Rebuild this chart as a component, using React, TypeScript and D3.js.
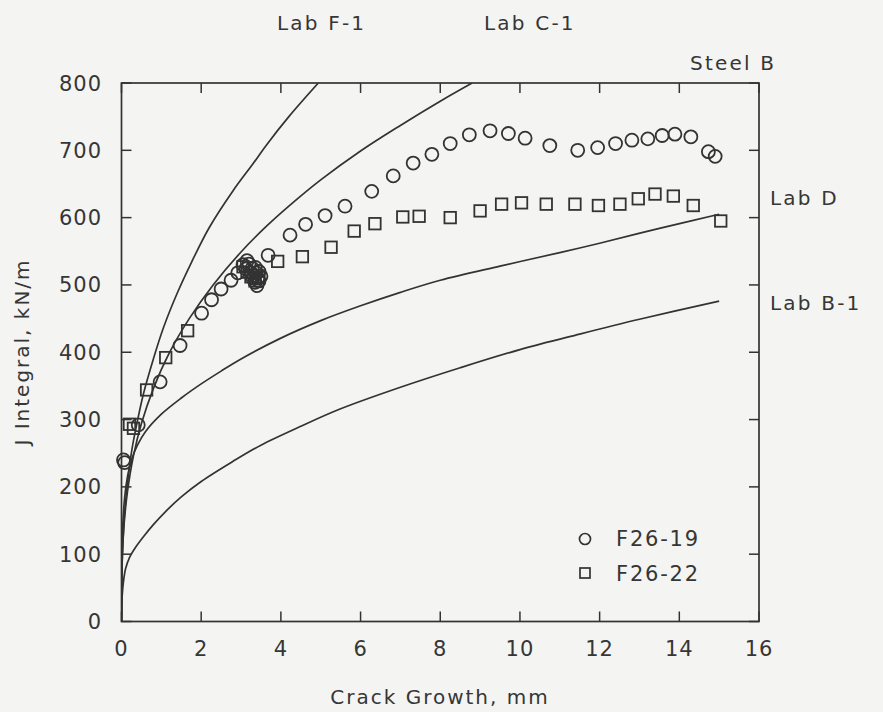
import React, { useEffect } from "react";
import * as d3 from "d3";

// Lab prediction curves: [crack growth mm, J kN/m]
const labF1: [number, number][] = [
  [0, 0], [0.01, 70], [0.03, 110], [0.07, 155], [0.15, 205], [0.26, 255], [0.4, 298],
  [0.55, 338], [0.8, 390], [1.05, 436], [1.4, 488], [1.76, 534], [2.2, 585],
  [2.8, 640], [3.3, 680], [3.64, 708], [4.2, 750], [4.94, 800],
];
const labC1: [number, number][] = [
  [0, 0], [0.01, 75], [0.03, 110], [0.07, 148], [0.15, 193], [0.3, 246], [0.5, 294],
  [0.8, 346], [1.2, 399], [1.7, 450], [2.3, 500], [3.0, 549], [3.6, 585],
  [4.2, 617], [5.0, 656], [6.0, 699], [7.0, 737], [8.0, 773], [8.8, 800],
];
const labD: [number, number][] = [
  [0, 0], [0.01, 90], [0.03, 140], [0.08, 185], [0.15, 215], [0.25, 240], [0.4, 262],
  [0.6, 282], [1.0, 308], [1.5, 332], [2.0, 353], [2.5, 372], [3.0, 390],
  [4.0, 421], [5.0, 447], [6.0, 469], [7.0, 489], [8.0, 507], [9.5, 528],
  [11.0, 548], [12.0, 562], [13.5, 584], [15.0, 605],
];
const labB1: [number, number][] = [
  [0, 0], [0.01, 30], [0.03, 48], [0.06, 64], [0.1, 78], [0.2, 95], [0.35, 110],
  [0.55, 126], [0.8, 144], [1.1, 163], [1.5, 185], [2.0, 208], [2.8, 238],
  [3.5, 262], [4.5, 290], [5.5, 316], [7.0, 348], [8.5, 377], [10.0, 404],
  [11.5, 427], [13.0, 449], [15.0, 476],
];

// Test data
const f2619: [number, number][] = [
  [0.05, 240], [0.08, 236], [0.42, 292], [0.97, 356], [1.47, 410], [2.01, 458],
  [2.26, 478], [2.5, 494], [2.75, 507], [2.92, 518], [3.05, 530], [3.12, 524],
  [3.2, 531], [3.25, 518], [3.3, 510], [3.35, 504], [3.4, 499], [3.45, 506],
  [3.5, 513], [3.38, 518], [3.28, 525], [3.15, 536], [3.45, 520], [3.32, 514],
  [3.42, 510], [3.36, 526], [3.68, 544],
  [4.23, 574], [4.62, 590], [5.11, 603], [5.61, 617], [6.28, 639], [6.82, 662],
  [7.32, 681], [7.79, 694], [8.25, 710], [8.73, 723], [9.25, 729], [9.71, 725],
  [10.13, 718], [10.75, 707], [11.45, 700], [11.95, 704], [12.4, 710],
  [12.81, 715], [13.21, 717], [13.57, 722], [13.89, 724], [14.29, 720],
  [14.73, 698], [14.9, 691],
];
const f2622: [number, number][] = [
  [0.2, 293], [0.3, 287], [0.63, 344], [1.11, 392], [1.66, 432], [3.05, 527],
  [3.15, 519], [3.25, 512], [3.35, 506], [3.45, 511], [3.92, 535], [4.54, 542],
  [5.26, 556], [5.84, 580], [6.36, 591], [7.06, 601], [7.47, 602], [8.25, 600],
  [9.0, 610], [9.54, 620], [10.04, 622], [10.66, 620], [11.38, 620],
  [11.97, 618], [12.51, 620], [12.97, 628], [13.39, 635], [13.85, 632],
  [14.35, 618], [15.04, 595],
];

const xTicks = [0, 2, 4, 6, 8, 10, 12, 14, 16];
const yTicks = [0, 100, 200, 300, 400, 500, 600, 700, 800];

const W = 883;
const H = 712;
const INK = "#333";
const TXT = "#363636";
const FONT = "'DejaVu Sans', Verdana, sans-serif";

export default function App() {
  useEffect(() => {
    document.body.style.margin = "0";
  }, []);

  const x = d3.scaleLinear().domain([0, 16]).range([121.5, 759]);
  const y = d3.scaleLinear().domain([0, 800]).range([621.5, 83]);
  const line = d3
    .line<[number, number]>()
    .x((d) => x(d[0]))
    .y((d) => y(d[1]))
    .curve(d3.curveCatmullRom.alpha(0.5));

  const x0 = x(0), x1 = x(16), y0 = y(0), y1 = y(800);
  const tl = 10;
  const sq = 11.5;

  return (
    <svg width={W} height={H} style={{ display: "block", background: "#f4f4f2" }} fontFamily={FONT}>
      <defs>
        <clipPath id="plot">
          <rect x={x0} y={y1} width={x1 - x0} height={y0 - y1} />
        </clipPath>
      </defs>
      <rect x={0} y={0} width={W} height={H} fill="#f4f4f2" />

      {/* curves */}
      <g clipPath="url(#plot)" fill="none" stroke={INK} strokeWidth={1.7}>
        {[labF1, labC1, labD, labB1].map((c, i) => (
          <path key={i} d={line(c) || ""} />
        ))}
      </g>

      {/* data */}
      <g fill="none" stroke={INK} strokeWidth={1.8}>
        {f2619.map((d, i) => (
          <circle key={"c" + i} cx={x(d[0])} cy={y(d[1])} r={6.5} />
        ))}
        {f2622.map((d, i) => (
          <rect key={"s" + i} x={x(d[0]) - sq / 2} y={y(d[1]) - sq / 2} width={sq} height={sq} />
        ))}
      </g>

      {/* frame */}
      <rect x={x0} y={y1} width={x1 - x0} height={y0 - y1} fill="none" stroke={INK} strokeWidth={1.7} />
      <g stroke={INK} strokeWidth={1.5}>
        {xTicks.map((t) => (
          <g key={"xt" + t}>
            <line x1={x(t)} x2={x(t)} y1={y0} y2={y0 - tl} />
            <line x1={x(t)} x2={x(t)} y1={y1} y2={y1 + tl} />
          </g>
        ))}
        {yTicks.map((t) => (
          <g key={"yt" + t}>
            <line x1={x0} x2={x0 + tl} y1={y(t)} y2={y(t)} />
            <line x1={x1} x2={x1 - tl} y1={y(t)} y2={y(t)} />
          </g>
        ))}
      </g>

      {/* tick labels */}
      <g fill={TXT} fontSize={21} letterSpacing={1}>
        {xTicks.map((t) => (
          <text key={"xl" + t} x={x(t)} y={656} textAnchor="middle">
            {t}
          </text>
        ))}
        {yTicks.map((t) => (
          <text key={"yl" + t} x={102} y={y(t) + 7.5} textAnchor="end">
            {t}
          </text>
        ))}
      </g>

      {/* axis titles */}
      <text x={440} y={704} textAnchor="middle" fontSize={20} fill={TXT} letterSpacing={2}>
        Crack Growth, mm
      </text>
      <text
        transform="translate(29,352) rotate(-90)"
        textAnchor="middle"
        fontSize={20}
        fill={TXT}
        letterSpacing={2}
      >
        J Integral, kN/m
      </text>

      {/* curve labels */}
      <g fill={TXT} fontSize={20} letterSpacing={2.2}>
        <text x={277} y={30}>Lab F-1</text>
        <text x={484} y={30}>Lab C-1</text>
        <text x={690} y={70}>Steel B</text>
        <text x={770} y={205}>Lab D</text>
        <text x={770} y={310}>Lab B-1</text>
      </g>

      {/* legend */}
      <g fill="none" stroke={INK} strokeWidth={1.7}>
        <circle cx={585} cy={539} r={5.5} />
        <rect x={585 - 5} y={573 - 5} width={10} height={10} />
      </g>
      <g fill={TXT} fontSize={21} letterSpacing={1.8}>
        <text x={616} y={546}>F26-19</text>
        <text x={616} y={581}>F26-22</text>
      </g>
    </svg>
  );
}
